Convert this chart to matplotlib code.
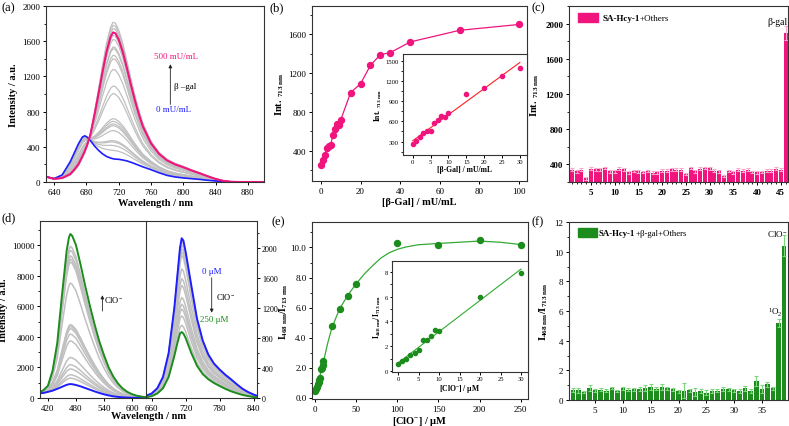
import numpy as np
import matplotlib
matplotlib.use('Agg')
import matplotlib.pyplot as plt
from matplotlib.ticker import MultipleLocator, AutoMinorLocator, FormatStrFormatter
from matplotlib.patches import Rectangle

plt.rcParams['font.family'] = ['Liberation Serif', 'DejaVu Serif']
plt.rcParams['mathtext.fontset'] = 'custom'
plt.rcParams['mathtext.rm'] = 'Liberation Serif'
plt.rcParams['mathtext.bf'] = 'Liberation Serif:bold'
plt.rcParams['mathtext.it'] = 'Liberation Serif:italic'
plt.rcParams['font.size'] = 7

PINK = '#F0147D'
BLUE = '#1E1EFF'
GREEN = '#1C8C1C'
GRAY = '#C0C0C0'

# ---------------- (a) spectra vs beta-gal ----------------
wl_a = [630, 640, 650, 660, 665, 670, 675, 678, 681, 685, 690, 695, 700, 705, 710, 713,
        716, 720, 725, 730, 735, 740, 745, 750, 760, 770, 780, 790, 800, 810, 820, 830,
        840, 850, 860, 870, 900]
blue_a = [60, 38, 80, 230, 330, 430, 510, 525, 510, 470, 410, 360, 320, 290, 272, 264,
          260, 258, 250, 240, 225, 208, 190, 172, 140, 105, 75, 57, 46, 38, 30, 20,
          12, 5, 1, 0, 0]
pink_a = [60, 35, 45, 90, 140, 200, 290, 350, 420, 540, 760, 1000, 1250, 1480, 1650, 1700,
          1690, 1620, 1480, 1300, 1110, 930, 770, 630, 440, 320, 245, 200, 168, 132, 100, 66,
          35, 12, 2, 0, 0]
gray_peaks_a = [1815, 1780, 1745, 1665, 1620, 1535, 1515, 1440, 1400, 1280, 1090, 1005,
                720, 690, 660, 640, 585, 470, 455, 415, 360]

# ---------------- (b) titration beta-gal ----------------
gal_x = [0, 1, 2, 3, 4, 5, 6, 7, 8, 9, 10, 15, 20, 25, 30, 35, 45, 70, 100]
gal_y = [258, 305, 362, 430, 450, 460, 568, 620, 680, 668, 718, 1000, 1090, 1280, 1390,
         1410, 1520, 1640, 1700]

# ---------------- (c) selectivity ----------------
sel_c = [340, 320, 340, 240, 350, 345, 345, 360, 320, 320, 350, 345, 310, 325, 320, 315,
         325, 305, 310, 330, 330, 345, 340, 340, 290, 360, 320, 350, 360, 355, 330, 320,
         270, 325, 310, 340, 330, 340, 315, 310, 315, 330, 330, 350, 340, 1890]
err_c = [15] * 45 + [80]

# ---------------- (d) ratiometric spectra ----------------
wl_d1 = [400, 410, 420, 430, 440, 450, 460, 465, 468, 472, 480, 490, 500, 510, 520, 530,
         540, 550, 560, 570, 580, 590, 600, 610, 620, 630]
green_d1 = [350, 500, 800, 1800, 3600, 6700, 9600, 10500, 10720, 10600, 10000, 8700, 7300,
            6000, 4800, 3700, 2800, 2000, 1400, 950, 620, 400, 250, 150, 90, 60]
blue_d1 = [300, 330, 400, 480, 600, 730, 860, 900, 910, 900, 850, 760, 650, 540, 430, 330,
           240, 170, 110, 70, 45, 28, 18, 10, 6, 4]
gray_peaks_d1 = [9910, 9650, 9300, 9085, 8900, 7510, 4800, 4680, 4530, 4180, 3740, 2650,
                 2180, 1900, 1520, 1300]

wl_d2 = [650, 660, 670, 680, 690, 700, 705, 710, 713, 716, 720, 730, 740, 750, 760, 770,
         780, 790, 800, 810, 820, 830, 840, 850, 860]
blue_d2 = [30, 60, 130, 280, 600, 1200, 1600, 2000, 2130, 2100, 1950, 1500, 1060, 770, 580,
           460, 380, 310, 250, 185, 125, 80, 45, 18, 6]
green_d2 = [10, 25, 60, 130, 280, 560, 720, 860, 880, 860, 800, 600, 430, 320, 250, 200,
            160, 122, 90, 65, 42, 26, 13, 5, 2]
gray_peaks_d2 = [2100, 2080, 2036, 1990, 1945, 1900, 1720, 1590, 1500, 1340, 1250, 1185,
                 1095, 970]

# ---------------- (e) titration ClO- ----------------
clo_x = [0, 1, 2, 3, 4, 5, 6, 7, 8, 9, 10, 20, 30, 40, 50, 100, 150, 200, 250]
clo_y = [0.45, 0.58, 0.72, 0.88, 1.02, 1.18, 1.3, 1.9, 2.0, 2.15, 2.45, 4.75, 5.9, 6.8,
         7.6, 10.3, 10.2, 10.5, 10.2]
fit_x = [0, 5, 10, 15, 20, 25, 30, 40, 50, 60, 70, 80, 90, 100, 110, 125, 150, 175, 200,
         225, 250]
fit_y = [0.35, 1.3, 2.4, 3.6, 4.6, 5.3, 5.95, 6.85, 7.6, 8.25, 8.8, 9.3, 9.65, 9.88, 10.03,
         10.18, 10.27, 10.35, 10.43, 10.35, 10.2]
ins_e_x = [0, 1, 2, 3, 4, 5, 6, 7, 8, 9, 10, 20, 30]
ins_e_y = [0.6, 0.85, 1.0, 1.3, 1.45, 1.7, 2.55, 2.5, 2.8, 3.35, 3.2, 6.0, 7.85]

# ---------------- (f) selectivity ----------------
sel_f = [0.68, 0.65, 0.55, 0.8, 0.65, 0.68, 0.62, 0.82, 0.62, 0.78, 0.7, 0.72, 0.75, 0.8,
         0.88, 0.75, 0.85, 0.78, 0.72, 0.6, 0.62, 0.65, 0.55, 0.6, 0.5, 0.6, 0.62, 0.75,
         0.72, 0.65, 0.6, 0.78, 0.62, 1.3, 0.75, 1.05, 0.78, 5.2, 10.4]
err_f = [0.15, 0.18, 0.08, 0.18, 0.08, 0.1, 0.1, 0.06, 0.08, 0.08, 0.1, 0.1, 0.15, 0.18,
         0.18, 0.1, 0.2, 0.1, 0.08, 0.1, 0.5, 0.1, 0.25, 0.15, 0.15, 0.15, 0.1, 0.15,
         0.1, 0.08, 0.15, 0.15, 0.15, 0.35, 0.25, 0.15, 0.08, 0.25, 0.7]

W, H = 789, 427
TICK_FS = 6.5
LAB_FS = 7.5
INT_LBL = r'$\mathbf{Int.}_{\ \mathbf{713\ nm}}$'
RATIO_LBL = r'$\mathbf{I}_{\mathbf{468\ nm}}\mathbf{/I}_{\mathbf{713\ nm}}$'


def box(l, r, t, b):
    return [l / W, 1 - b / H, (r - l) / W, (b - t) / H]


def style(ax, fs=TICK_FS):
    for s in ax.spines.values():
        s.set_color('#333333')
        s.set_linewidth(0.8)
    ax.tick_params(direction='out', length=2.5, width=0.7, pad=1.5, labelsize=fs,
                   top=False, right=False)
    ax.tick_params(which='minor', direction='out', length=1.4, width=0.6)


def mix(lo, hi, peak, ref_lo, ref_hi):
    lo = np.array(lo, float)
    hi = np.array(hi, float)
    w = (peak - ref_lo) / (ref_hi - ref_lo)
    return np.clip(lo + w * (hi - lo), 0, None)


fig = plt.figure(figsize=(7.89, 4.27), dpi=100)

# (a)
ax = fig.add_axes(box(46, 264, 7, 183))
for p in gray_peaks_a:
    ax.plot(wl_a, mix(blue_a, pink_a, p, 264, 1700), color=GRAY, lw=0.9)
ax.plot(wl_a, blue_a, color=BLUE, lw=1.2)
ax.plot(wl_a, pink_a, color=PINK, lw=1.5)
ax.set_xlim(630, 900)
ax.set_ylim(0, 2000)
ax.xaxis.set_major_locator(MultipleLocator(40))
ax.yaxis.set_major_locator(MultipleLocator(400))
ax.yaxis.set_minor_locator(AutoMinorLocator(2))
ax.set_xlabel('Wavelength / nm', fontweight='bold', fontsize=LAB_FS, labelpad=2)
ax.set_ylabel('Intensity / a.u.', fontweight='bold', fontsize=LAB_FS, labelpad=3)
ax.text(764, 1430, '500 mU/mL', color=PINK, fontsize=6.5, va='center')
ax.text(766, 831, '0 mU/mL', color=BLUE, fontsize=6.5, va='center')
ax.annotate('', xy=(784, 1370), xytext=(784, 850),
            arrowprops=dict(arrowstyle='-|>', color='#222222', lw=0.6, mutation_scale=5))
ax.text(788, 1090, 'β –gal', fontsize=6.5, va='center')
style(ax)

# (b)
ax = fig.add_axes(box(312, 527, 7, 182))
ax.plot(gal_x, gal_y, color=PINK, lw=0.9, marker='o', ms=4.3, mfc=PINK, mec=PINK)
ax.set_xlim(-4.5, 104)
ax.set_ylim(90, 1890)
ax.xaxis.set_major_locator(MultipleLocator(20))
ax.yaxis.set_major_locator(MultipleLocator(400))
ax.yaxis.set_minor_locator(AutoMinorLocator(2))
ax.set_xlabel('[β-Gal] / mU/mL', fontweight='bold', fontsize=LAB_FS, labelpad=2)
ax.set_ylabel(INT_LBL, fontsize=LAB_FS, labelpad=2)
style(ax)

ins = fig.add_axes(box(403, 527, 55, 156))
ins_x = gal_x[:15]
ins_y = gal_y[:15]
k, b0 = np.polyfit(ins_x, ins_y, 1)
ins.plot([0, 30], [b0, b0 + 30 * k], color='#FF2020', lw=0.8)
ins.plot(ins_x, ins_y, 'o', color=PINK, ms=3)
ins.set_xlim(-2.7, 32)
ins.set_ylim(100, 1600)
ins.xaxis.set_major_locator(MultipleLocator(5))
ins.yaxis.set_major_locator(MultipleLocator(300))
ins.yaxis.set_minor_locator(AutoMinorLocator(2))
ins.set_xlabel('[β-Gal] / mU/mL', fontweight='bold', fontsize=5.5, labelpad=1)
ins.set_ylabel(INT_LBL, fontsize=5.5, labelpad=1)
style(ins, fs=4.8)
ins.tick_params(length=1.8, pad=1)

# (c)
ax = fig.add_axes(box(569, 788, 7, 183))
xc = np.arange(1, len(sel_c) + 1)
ax.bar(xc, sel_c, width=0.82, color=PINK, yerr=err_c, ecolor='#F7A8CC',
       error_kw=dict(lw=0.8, capsize=1.5, capthick=0.8))
ax.set_xlim(0.4, 46.5)
ax.set_ylim(200, 2200)
ax.xaxis.set_major_locator(MultipleLocator(5))
ax.xaxis.set_minor_locator(AutoMinorLocator(5))
ax.yaxis.set_major_locator(MultipleLocator(400))
ax.yaxis.set_minor_locator(AutoMinorLocator(2))
ax.set_ylabel(INT_LBL, fontsize=LAB_FS, labelpad=3)
style(ax)
for t in ax.get_xticklabels() + ax.get_yticklabels():
    t.set_fontweight('bold')
ax.add_patch(Rectangle((0.041, 0.909), 0.091, 0.051, transform=ax.transAxes, color=PINK))
t1 = ax.text(0.151, 0.934, 'SA-Hcy-1', transform=ax.transAxes, fontweight='bold',
             fontsize=6.5, va='center')
ax.annotate('+Others', xy=(1, 0.5), xycoords=t1, va='center', fontsize=6.5)
ax.text(0.997, 0.91, 'β-gal', transform=ax.transAxes, fontsize=7, ha='right', va='center')

# (d) left
axl = fig.add_axes(box(40, 146, 222, 399))
for p in gray_peaks_d1:
    axl.plot(wl_d1, mix(blue_d1, green_d1, p, 910, 10720), color=GRAY, lw=1.1)
axl.plot(wl_d1, blue_d1, color=BLUE, lw=1.4)
axl.plot(wl_d1, green_d1, color=GREEN, lw=1.4)
axl.set_xlim(403, 630)
axl.set_ylim(0, 11570)
axl.xaxis.set_major_locator(MultipleLocator(60))
axl.yaxis.set_major_locator(MultipleLocator(2000))
axl.yaxis.set_minor_locator(AutoMinorLocator(2))
axl.spines['right'].set_visible(False)
axl.set_ylabel('Intensity / a.u.', fontweight='bold', fontsize=LAB_FS, labelpad=3)
axl.annotate('', xy=(536.6, 6900), xytext=(536.6, 5500),
             arrowprops=dict(arrowstyle='-|>', color='#222222', lw=0.6, mutation_scale=5))
axl.text(540, 6500, r'ClO$^{-}$', fontsize=6, va='center')
style(axl)

axr = fig.add_axes(box(146, 257, 222, 399))
for p in gray_peaks_d2:
    axr.plot(wl_d2, mix(green_d2, blue_d2, p, 880, 2130), color=GRAY, lw=1.1)
axr.plot(wl_d2, blue_d2, color=BLUE, lw=1.4)
axr.plot(wl_d2, green_d2, color=GREEN, lw=1.4)
axr.set_xlim(650, 846)
axr.set_xticks([660, 720, 780, 840])
axr.yaxis.set_major_locator(MultipleLocator(400))
axr.yaxis.set_minor_locator(AutoMinorLocator(2))
axr.set_ylim(0, 2360)
axr.yaxis.tick_right()
style(axr)
axr.tick_params(axis='y', which='both', left=False, right=True, labelsize=5.8, pad=1)
axr.text(749, 1700, '0 μM', color=BLUE, fontsize=6.5, va='center')
axr.text(746, 1050, '250 μM', color=GREEN, fontsize=6.5, va='center')
axr.annotate('', xy=(766, 1100), xytext=(766, 1640),
             arrowprops=dict(arrowstyle='-|>', color='#222222', lw=0.6, mutation_scale=5))
axr.text(773, 1360, r'ClO$^{-}$', fontsize=6, va='center')
fig.text((40 + 257) / 2 / W, 1 - 417 / H, 'Wavelength / nm', fontweight='bold',
         fontsize=LAB_FS, ha='center', va='center')

# (e)
ax = fig.add_axes(box(312, 528, 223, 400))
ax.plot(fit_x, fit_y, color='#33AA33', lw=0.9)
ax.plot(clo_x, clo_y, 'o', color=GREEN, ms=4.3)
ax.set_xlim(-4, 259)
ax.set_ylim(-0.1, 11.7)
ax.xaxis.set_major_locator(MultipleLocator(50))
ax.yaxis.set_major_locator(MultipleLocator(2))
ax.yaxis.set_minor_locator(AutoMinorLocator(2))
ax.yaxis.set_major_formatter(FormatStrFormatter('%.1f'))
ax.set_xlabel(r'[ClO$^{-}$] / μM', fontweight='bold', fontsize=LAB_FS, labelpad=1)
ax.set_ylabel(RATIO_LBL, fontsize=7.2, labelpad=0.5)
style(ax)

ins = fig.add_axes(box(392, 528, 262, 373))
k, b0 = np.polyfit(ins_e_x, ins_e_y, 1)
ins.plot([0, 30], [b0, b0 + 30 * k], color='#33AA33', lw=0.8)
ins.plot(ins_e_x, ins_e_y, 'o', color=GREEN, ms=3)
ins.set_xlim(-1.5, 31.7)
ins.set_ylim(-0.05, 8.85)
ins.xaxis.set_major_locator(MultipleLocator(5))
ins.yaxis.set_major_locator(MultipleLocator(2))
ins.yaxis.set_minor_locator(AutoMinorLocator(2))
ins.set_xlabel(r'[ClO$^{-}$] / μM', fontweight='bold', fontsize=5.5, labelpad=1)
ins.set_ylabel(RATIO_LBL, fontsize=5.5, labelpad=1)
style(ins, fs=4.8)
ins.tick_params(length=1.8, pad=1)

# (f)
ax = fig.add_axes(box(569, 788, 223, 401))
xf = np.arange(1, len(sel_f) + 1)
ax.bar(xf, sel_f, width=0.82, color=GREEN, yerr=err_f, ecolor='#7CD67C',
       error_kw=dict(lw=0.8, capsize=1.5, capthick=0.8))
ax.set_xlim(0.3, 39.7)
ax.set_ylim(0, 12)
ax.xaxis.set_major_locator(MultipleLocator(5))
ax.yaxis.set_major_locator(MultipleLocator(2))
ax.yaxis.set_minor_locator(AutoMinorLocator(2))
ax.set_ylabel(RATIO_LBL, fontsize=LAB_FS, labelpad=3)
ax.add_patch(Rectangle((0.041, 0.916), 0.087, 0.05, transform=ax.transAxes, color=GREEN))
t1 = ax.text(0.137, 0.941, 'SA-Hcy-1', transform=ax.transAxes, fontweight='bold',
             fontsize=6.3, va='center')
ax.annotate('+β-gal+Others', xy=(1, 0.5), xycoords=t1, va='center', fontsize=6.3)
ax.text(37.5, 5.55, r'$^{1}$O$_{2}$', fontsize=6.5, ha='center', va='bottom')
ax.text(0.997, 0.94, r'ClO$^{-}$', transform=ax.transAxes, fontsize=6.5, ha='right',
        va='center')
style(ax)

# panel letters
for lab, x, y in [('(a)', 1, 8), ('(b)', 270, 8), ('(c)', 532, 8),
                  ('(d)', 1, 218), ('(e)', 272, 222), ('(f)', 532, 222)]:
    fig.text(x / W, 1 - y / H, lab, fontsize=9, va='center')

fig.savefig('out.png', dpi=100, facecolor='white')
